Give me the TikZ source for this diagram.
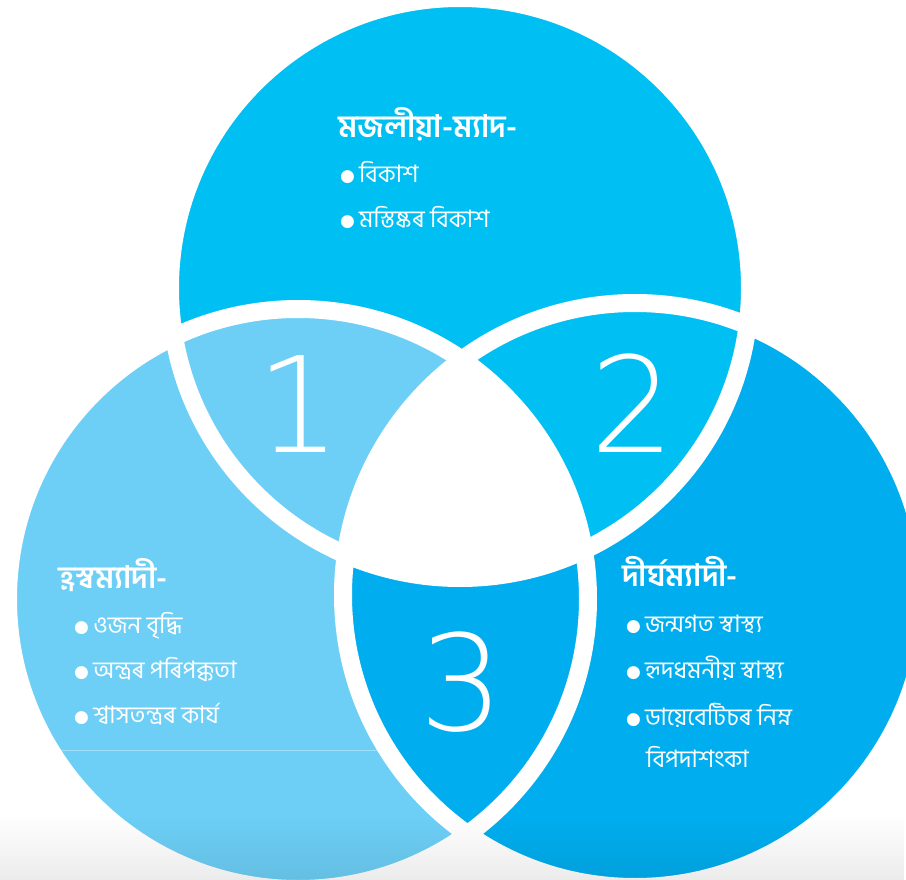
\documentclass[tikz,border=0pt]{standalone}
\usepackage{fontspec}
\usetikzlibrary{fadings}
\newfontfamily\bn[Script=Bengali]{Hind Siliguri}
\newfontfamily\dv{DejaVu Sans}
\newfontfamily\thin{DejaVu Sans ExtraLight}
\definecolor{cTop}{RGB}{0,191,243}
\definecolor{cLeft}{RGB}{109,207,246}
\definecolor{cRight}{RGB}{0,174,239}
\newcommand{\bul}{{\dv\fontsize{17}{17}\selectfont\raisebox{1pt}{●}}\hspace{4pt}}
\begin{document}
\begin{tikzpicture}[x=1pt,y=-1pt,
  txt/.style={anchor=base west, text=white, inner sep=0pt, font=\bn\fontsize{24}{24}\selectfont},
  head/.style={txt, font=\bn\bfseries\fontsize{31}{31}\selectfont},
  num/.style={anchor=base, text=white, inner sep=0pt, font=\thin\fontsize{133}{133}\selectfont},
  ring/.style={draw=white, line width=18pt}]
\useasboundingbox (0,0) rectangle (906,880);
\fill[white] (0,0) rectangle (906,880);
\coordinate (T) at (460,288);
\coordinate (L) at (298,599);
\coordinate (R) at (635,595);
\fill[cRight] (R) circle[radius=292pt];
\fill[cTop] (T) circle[radius=290pt];
\fill[cLeft] (L) circle[radius=290pt];
\begin{scope}
  \clip (L) circle[radius=290pt];
  \fill[cRight] (R) circle[radius=292pt];
  \clip (T) circle[radius=290pt];
  \fill[white] (R) circle[radius=292pt];
\end{scope}
\draw[white, opacity=0.35, line width=0.8pt] (45,750) -- (385,750);
\draw[ring] (T) circle[radius=290pt];
\draw[ring] (L) circle[radius=290pt];
\draw[ring] (R) circle[radius=292pt];
\fill[black, path fading=north, fill opacity=0.08] (0,815) rectangle (906,880);
% numbers
\node[num] (n1) at (299,452) {1};
\node[num] (n2) at (633,452) {2};
\node[num] (n3) at (462,730) {3};
% top
\node[head] (th) at (338,138) {মজলীয়া-ম্যাদ-};
\node[txt] (t1) at (340,183) {\bul বিকাশ};
\node[txt] (t2) at (340,228) {\bul মস্তিষ্কৰ বিকাশ};
% left
\node[head] (lh) at (58,588) {হ্ৰস্বম্যাদী-};
\node[txt] (l1) at (74,633) {\bul ওজন বৃদ্ধি};
\node[txt] (l2) at (74,678) {\bul অন্ত্ৰৰ পৰিপক্কতা};
\node[txt] (l3) at (74,723) {\bul শ্বাসতন্ত্ৰৰ কাৰ্য};
% right
\node[head] (rh) at (622,586) {দীৰ্ঘম্যাদী-};
\node[txt] (r1) at (626,632) {\bul জন্মগত স্বাস্থ্য};
\node[txt] (r2) at (626,678) {\bul হৃদধমনীয় স্বাস্থ্য};
\node[txt] (r3) at (626,725) {\bul ডায়েবেটিচৰ নিম্ন};
\node[txt] (r4) at (646,767) {বিপদাশংকা};
\end{tikzpicture}
\end{document}
